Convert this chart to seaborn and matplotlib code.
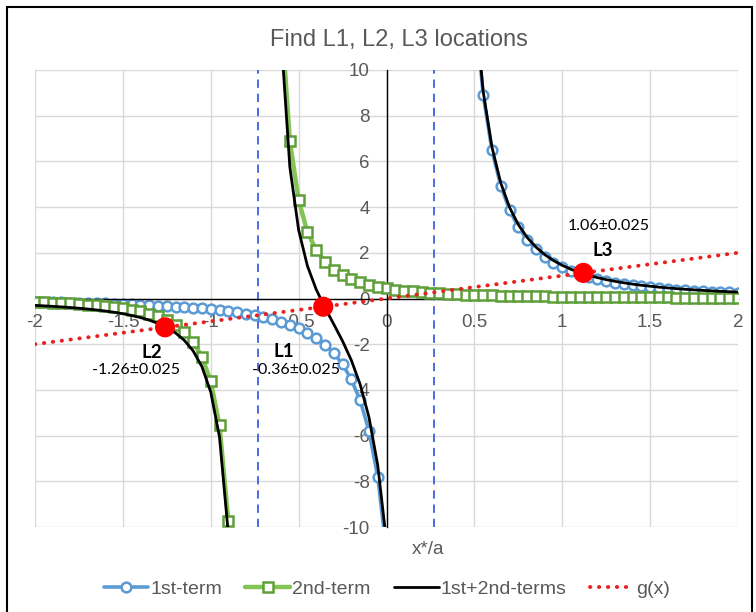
import numpy as np
import pandas as pd
import matplotlib
matplotlib.use("Agg")
import matplotlib.pyplot as plt
import seaborn as sns
from matplotlib.lines import Line2D
from matplotlib.patches import Rectangle

# ---------------- data ----------------
x_vals = [-2.0, -1.95, -1.9, -1.85, -1.8, -1.75, -1.7, -1.65, -1.6, -1.55,
          -1.5, -1.45, -1.4, -1.35, -1.3, -1.25, -1.2, -1.15, -1.1, -1.05,
          -1.0, -0.95, -0.9, -0.85, -0.8, -0.75, -0.7, -0.65, -0.6, -0.55,
          -0.5, -0.45, -0.4, -0.35, -0.3, -0.25, -0.2, -0.15, -0.1, -0.05,
          0.0, 0.05, 0.1, 0.15, 0.2, 0.25, 0.3, 0.35, 0.4, 0.45,
          0.5, 0.55, 0.6, 0.65, 0.7, 0.75, 0.8, 0.85, 0.9, 0.95,
          1.0, 1.05, 1.1, 1.15, 1.2, 1.25, 1.3, 1.35, 1.4, 1.45,
          1.5, 1.55, 1.6, 1.65, 1.7, 1.75, 1.8, 1.85, 1.9, 1.95, 2.0]

first_term = [-0.147, -0.154, -0.161, -0.168, -0.177, -0.186, -0.195, -0.206, -0.217, -0.229,
              -0.242, -0.256, -0.272, -0.289, -0.308, -0.329, -0.352, -0.377, -0.405, -0.437,
              -0.472, -0.512, -0.557, -0.609, -0.668, -0.735, -0.814, -0.906, -1.014, -1.143,
              -1.298, -1.488, -1.722, -2.016, -2.392, -2.884, -3.544, -4.462, -5.787, -7.804,
              -11.095, None, None, None, None, None, None, None, None, None,
              13.021, 8.918, 6.488, 4.931, 3.874, 3.124, 2.572, 2.155, 1.831, 1.575,
              1.370, 1.202, 1.063, 0.947, 0.849, 0.765, 0.693, 0.631, 0.577, 0.530,
              0.488, 0.451, 0.418, 0.388, 0.362, 0.338, 0.316, 0.297, 0.279, 0.263, 0.248]

second_term = [-0.154, -0.167, -0.182, -0.199, -0.218, -0.240, -0.266, -0.296, -0.331, -0.373,
               -0.424, -0.486, -0.562, -0.658, -0.781, -0.942, -1.158, -1.457, -1.890, -2.549,
               -3.624, -5.556, -9.75, None, None, None, None, None, 12.5, 6.9,
               4.3, 2.913, 2.119, 1.611, 1.266, 1.020, 0.840, 0.704, 0.598, 0.515,
               0.447, 0.393, 0.347, 0.309, 0.277, 0.250, 0.227, 0.206, 0.189, 0.173,
               0.159, 0.147, 0.136, 0.127, 0.118, 0.110, 0.103, 0.097, 0.091, 0.086,
               0.081, 0.076, 0.072, 0.069, 0.065, 0.062, 0.059, 0.056, 0.053, 0.051,
               0.049, 0.047, 0.045, 0.043, 0.041, 0.040, 0.038, 0.037, 0.035, 0.034, 0.033]

sum_terms = [-0.301, -0.321, -0.343, -0.367, -0.395, -0.426, -0.461, -0.502, -0.548, -0.602,
             -0.666, -0.742, -0.834, -0.947, -1.089, -1.271, -1.510, -1.834, -2.295, -2.986,
             -4.096, -6.068, -10.3, None, None, None, None, None, 11.486, 5.757,
             3.0, 1.425, 0.397, -0.405, -1.126, -1.864, -2.704, -3.758, -5.189, -7.289,
             -10.648, None, None, None, None, None, None, None, None, None,
             13.180, 9.065, 6.624, 5.058, 3.992, 3.234, 2.675, 2.252, 1.922, 1.661,
             1.451, 1.278, 1.135, 1.016, 0.914, 0.827, 0.752, 0.687, 0.630, 0.581,
             0.537, 0.498, 0.463, 0.431, 0.403, 0.378, 0.354, 0.334, 0.314, 0.297, 0.281]

g_x = [-2.0, 2.0]
g_y = [-2.0, 2.0]

L_names = ["L1", "L2", "L3"]
L_x = [-0.36, -1.26, 1.12]
L_y = [-0.36, -1.26, 1.12]
L_texts = ["-0.36\u00b10.025", "-1.26\u00b10.025", "1.06\u00b10.025"]

asym_x = [-0.73, 0.27]

x_ticks = [-2, -1.5, -1, -0.5, 0, 0.5, 1, 1.5, 2]
x_ticklabels = ["-2", "-1.5", "-1", "-0.5", "0", "0.5", "1", "1.5", "2"]
y_ticks = [-10, -8, -6, -4, -2, 0, 2, 4, 6, 8, 10]
y_ticklabels = ["-10", "-8", "-6", "-4", "-2", "0", "2", "4", "6", "8", "10"]

series_names = ["1st-term", "2nd-term", "1st+2nd-terms", "g(x)"]

# ---------------- style ----------------
sns.set_style("white")
plt.rcParams["font.family"] = ["Liberation Sans", "DejaVu Sans"]

BLUE = "#5b9bd5"
GREEN_LINE = "#84c455"
GREEN_EDGE = "#5e9f39"
RED = "#e8211f"
GRAY = "#595959"


def branches(xs, ys):
    df = pd.DataFrame({"x": xs, "y": pd.to_numeric(pd.Series(ys, dtype="object"), errors="coerce")})
    df["branch"] = df["y"].isna().cumsum()
    return df.dropna()


W, H = 756, 612
fig = plt.figure(figsize=(W / 100, H / 100), dpi=100)
ax = fig.add_axes([35 / W, 1 - 527 / H, (738 - 35) / W, (527 - 70) / H])

ax.set_xlim(-2, 2)
ax.set_ylim(-10, 10)
ax.set_xticks(x_ticks)
ax.set_xticklabels(x_ticklabels)
ax.set_yticks(y_ticks)
ax.set_yticklabels(y_ticklabels)
ax.grid(True, color="#d9d9d9", lw=1)
ax.set_axisbelow(True)
for s in ["top", "right"]:
    ax.spines[s].set_visible(False)
ax.spines["left"].set_position(("data", 0))
ax.spines["bottom"].set_position(("data", 0))
for s in ["left", "bottom"]:
    ax.spines[s].set_color("black")
    ax.spines[s].set_linewidth(1)
ax.tick_params(axis="both", length=0, labelsize=13.5, colors=GRAY)
ax.tick_params(axis="x", pad=11)
ax.tick_params(axis="y", pad=12)

ax.vlines(asym_x, -10, 10, colors="#2f52e0", linestyles=(0, (5, 3.5)), lw=1.2, zorder=1.5)

sns.lineplot(data=branches(x_vals, first_term), x="x", y="y", units="branch",
             estimator=None, sort=False, color=BLUE, lw=2.6, marker="o", markersize=7,
             markerfacecolor="white", markeredgecolor=BLUE, markeredgewidth=1.8,
             ax=ax, zorder=2, legend=False)
sns.lineplot(data=branches(x_vals, second_term), x="x", y="y", units="branch",
             estimator=None, sort=False, color=GREEN_LINE, lw=3.2, marker="s", markersize=6.5,
             markerfacecolor="white", markeredgecolor=GREEN_EDGE, markeredgewidth=1.8,
             ax=ax, zorder=3, legend=False)
sns.lineplot(data=branches(x_vals, sum_terms), x="x", y="y", units="branch",
             estimator=None, sort=False, color="black", lw=2.0,
             ax=ax, zorder=4, legend=False)
sns.lineplot(x=g_x, y=g_y, color=RED, lw=2.8, linestyle=(0, (0.1, 2.2)),
             dash_capstyle="round", ax=ax, zorder=5, legend=False)
sns.scatterplot(x=L_x, y=L_y, color="#ff0000", s=210, edgecolor="none", ax=ax, zorder=6,
                legend=False)

ax.set_xlabel("")
ax.set_ylabel("")

# annotations
name_pos = {"L1": (-0.584, -2.31), "L2": (-1.338, -2.35), "L3": (1.233, 2.12)}
txt_pos = {"L1": (-0.514, -3.14), "L2": (-1.428, -3.14), "L3": (1.267, 3.17)}
for n, t in zip(L_names, L_texts):
    ax.text(*name_pos[n], n, ha="center", va="center", fontsize=13.5, fontweight="bold",
            family=["Lato", "DejaVu Sans"], color="black", zorder=7)
    ax.text(*txt_pos[n], t, ha="center", va="center", fontsize=11.5,
            family=["Lato", "DejaVu Sans"], color="black", zorder=7)

fig.text(398.5 / W, 1 - 40 / H, "Find L1, L2, L3 locations", ha="center", va="center",
         fontsize=17, color=GRAY)
fig.text(428 / W, 1 - 549 / H, "x*/a", ha="center", va="center", fontsize=13.5, color=GRAY)

handles = [
    Line2D([], [], color=BLUE, lw=2.6, marker="o", markersize=7, markerfacecolor="white",
           markeredgecolor=BLUE, markeredgewidth=1.8),
    Line2D([], [], color=GREEN_LINE, lw=3.2, marker="s", markersize=6.5, markerfacecolor="white",
           markeredgecolor=GREEN_EDGE, markeredgewidth=1.8),
    Line2D([], [], color="black", lw=2.0),
    Line2D([], [], color=RED, lw=2.8, linestyle=(0, (0.1, 2.2)), dash_capstyle="round"),
]
leg = fig.legend(handles, series_names, loc="center", bbox_to_anchor=(387 / W, 1 - 589 / H),
                 ncol=4, frameon=False, fontsize=14, handlelength=2.3, handletextpad=0.1,
                 columnspacing=1.2)
for t in leg.get_texts():
    t.set_color(GRAY)

fig.patches.append(Rectangle((7 / W, -0.1), (752 - 7) / W, 1 - 7 / H + 0.1,
                             transform=fig.transFigure, fill=False, ec="black", lw=1.5))

fig.savefig("out.png", dpi=100)
